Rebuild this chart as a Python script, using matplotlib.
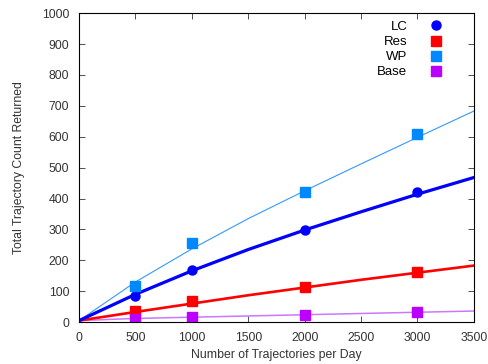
import matplotlib
matplotlib.use("Agg")
import matplotlib.pyplot as plt

plt.rcParams['font.family'] = ['Liberation Sans', 'DejaVu Sans']

# measured points
xPts = [500, 1000, 2000, 3000]
lc = [83, 170, 297, 420]
res = [35, 68, 113, 163]
wp = [117, 255, 420, 608]
base = [10, 17, 22, 33]

# fitted curves
xFit = [0, 500, 1000, 1500, 2000, 2500, 3000, 3500]
lcFit = [5, 90, 166, 235, 298, 357, 414, 468]
resFit = [5, 33, 60, 87, 112, 137, 160, 183]
wpFit = [5, 130, 237, 335, 425, 512, 598, 683]
baseFit = [5, 12, 16, 20, 24, 28, 32, 36]

fig = plt.figure(figsize=(4.88, 3.64), dpi=100)
ax = fig.add_axes([0.162, 0.115, 0.809, 0.849])

ax.plot(xFit, wpFit, color='#3399ff', lw=0.8)
ax.plot(xFit, baseFit, color='#cc77ff', lw=1.1)
ax.plot(xFit, resFit, color='#ff0000', lw=1.9)
ax.plot(xFit, lcFit, color='#0000ff', lw=2.3)

ax.plot(xPts, lc, 'o', color='#0000ff', ms=6.5, ls='none', label='LC')
ax.plot(xPts, res, 's', color='#ff0000', ms=7, ls='none', label='Res')
ax.plot(xPts, wp, 's', color='#0088ff', ms=7, ls='none', label='WP')
ax.plot(xPts, base, 's', color='#bb00ff', ms=7, ls='none', label='Base')

ax.set_xlim(0, 3500)
ax.set_ylim(0, 1000)
ax.set_xticks(range(0, 3501, 500))
ax.set_yticks(range(0, 1001, 100))
ax.tick_params(direction='in', top=True, right=True, labelsize=8.8,
               length=4, width=0.6, colors='#333333', pad=7)
for s in ax.spines.values():
    s.set_linewidth(0.8)

ax.set_xlabel('Number of Trajectories per Day', fontsize=8.8, color='#333333', labelpad=4)
ax.set_ylabel('Total Trajectory Count Returned', fontsize=8.8, color='#333333', labelpad=12)

ax.legend(loc='upper right', frameon=False, markerfirst=False, fontsize=9.5,
          handlelength=1.0, handletextpad=1.7, labelspacing=0.22,
          borderaxespad=0.3, bbox_to_anchor=(0.945, 1.005))

fig.savefig('out.png', dpi=100)
